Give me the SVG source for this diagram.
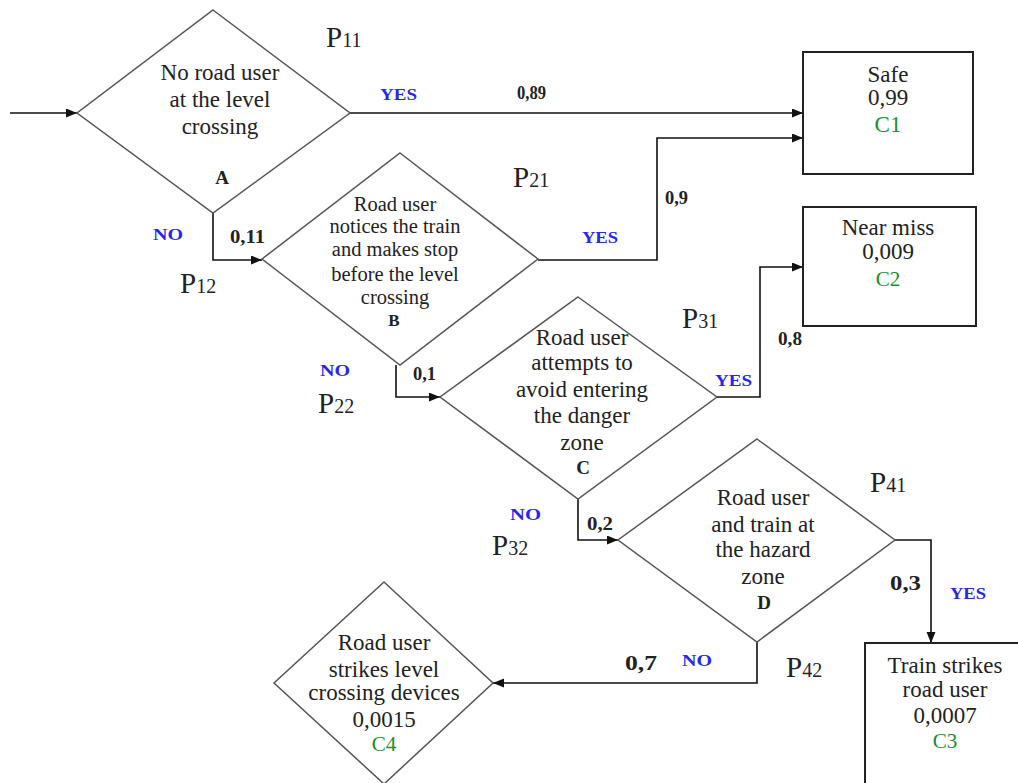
<svg xmlns="http://www.w3.org/2000/svg" width="1018" height="783" viewBox="0 0 1018 783">
<style>
.dia{fill:#fff;stroke:#555;stroke-width:1.5}
.box{fill:#fff;stroke:#222;stroke-width:2}
.con{fill:none;stroke:#111;stroke-width:1.6}
.t{font-family:"Liberation Serif","Times New Roman",serif;font-size:23px;fill:#222;text-anchor:middle}
.tb{font-size:20.5px}
.id{font-family:"Liberation Serif","Times New Roman",serif;font-weight:bold;font-size:19px;fill:#222;text-anchor:middle}
.g{fill:#1a8f2a}
.p{font-family:"Liberation Serif","Times New Roman",serif;font-size:29px;fill:#222}
.p tspan{font-size:20px}
.n{font-family:"Liberation Serif","Times New Roman",serif;font-weight:bold;font-size:19px;fill:#222}
.n2{font-size:22px}
.yn{font-family:"Liberation Serif","Times New Roman",serif;font-weight:bold;font-size:17px;fill:#2626ee}
</style>
<defs>
<marker id="ah" markerUnits="userSpaceOnUse" markerWidth="12" markerHeight="10" refX="11" refY="4.5" orient="auto">
<path d="M0,0 L11,4.5 L0,9 z" fill="#111"/>
</marker>
</defs>
<rect width="1018" height="783" fill="#fff"/>

<g id="connectors">
<path class="con" d="M10,113 H77" marker-end="url(#ah)"/>
<path class="con" d="M350,113 H803" marker-end="url(#ah)"/>
<path class="con" d="M213,213 V260 H262" marker-end="url(#ah)"/>
<path class="con" d="M538,260 H657 V138 H803" marker-end="url(#ah)"/>
<path class="con" d="M396,365 V397 H440" marker-end="url(#ah)"/>
<path class="con" d="M717,397 H760 V267 H803" marker-end="url(#ah)"/>
<path class="con" d="M578,499 V540 H618" marker-end="url(#ah)"/>
<path class="con" d="M895,540 H931 V643" marker-end="url(#ah)"/>
<path class="con" d="M757,642 V683 H493" marker-end="url(#ah)"/>
</g>

<g id="nodeA">
<polygon class="dia" points="213,10 350,113 213,213 77,113"/>
<text class="t" x="220" y="80">No road user</text>
<text class="t" x="220" y="107">at the level</text>
<text class="t" x="220" y="134">crossing</text>
<text class="id" x="222" y="184">A</text>
</g>

<g id="nodeB">
<polygon class="dia" points="400,153 538,259 400,365 262,259"/>
<text class="t tb" x="395" y="211">Road user</text>
<text class="t tb" x="395" y="233">notices the train</text>
<text class="t tb" x="395" y="256">and makes  stop</text>
<text class="t tb" x="395" y="281">before the level</text>
<text class="t tb" x="395" y="304">crossing</text>
<text class="id" x="394" y="326" style="font-size:17px">B</text>
</g>

<g id="nodeC">
<polygon class="dia" points="578,297 717,397 578,499 440,397"/>
<text class="t" x="582" y="345">Road user</text>
<text class="t" x="582" y="370">attempts to</text>
<text class="t" x="582" y="397">avoid entering</text>
<text class="t" x="582" y="423">the danger</text>
<text class="t" x="582" y="450">zone</text>
<text class="id" x="583" y="474">C</text>
</g>

<g id="nodeD">
<polygon class="dia" points="757,439 895,540 757,642 618,540"/>
<text class="t" x="763" y="505">Road user</text>
<text class="t" x="763" y="532">and train at</text>
<text class="t" x="763" y="557">the hazard</text>
<text class="t" x="763" y="584">zone</text>
<text class="id" x="764" y="609">D</text>
</g>

<g id="nodeC1">
<rect class="box" x="803" y="52" width="170" height="122"/>
<text class="t" x="888" y="82">Safe</text>
<text class="t" x="888" y="105">0,99</text>
<text class="t g" x="888" y="132">C1</text>
</g>

<g id="nodeC2">
<rect class="box" x="803" y="207" width="173" height="119"/>
<text class="t" x="888" y="235">Near miss</text>
<text class="t" x="888" y="259">0,009</text>
<text class="t g" x="888" y="286" style="font-size:21px">C2</text>
</g>

<g id="nodeC3">
<rect class="box" x="865" y="643" width="170" height="160"/>
<text class="t" x="945" y="673">Train strikes</text>
<text class="t" x="945" y="697">road user</text>
<text class="t" x="945" y="723">0,0007</text>
<text class="t g" x="945" y="748" style="font-size:21px">C3</text>
</g>

<g id="nodeC4">
<polygon class="dia" points="384,582 493,683 384,784 274,683"/>
<text class="t" x="384" y="650">Road user</text>
<text class="t" x="384" y="677">strikes level</text>
<text class="t" x="384" y="700">crossing devices</text>
<text class="t" x="384" y="727">0,0015</text>
<text class="t g" x="384" y="751" style="font-size:21px">C4</text>
</g>

<g id="labels">
<text class="p" x="326" y="47">P<tspan>11</tspan></text>
<text class="p" x="180" y="293">P<tspan>12</tspan></text>
<text class="p" x="513" y="187">P<tspan>21</tspan></text>
<text class="p" x="318" y="413">P<tspan>22</tspan></text>
<text class="p" x="682" y="328">P<tspan>31</tspan></text>
<text class="p" x="492" y="555">P<tspan>32</tspan></text>
<text class="p" x="870" y="492">P<tspan>41</tspan></text>
<text class="p" x="786" y="677">P<tspan>42</tspan></text>

<text class="n" x="517" y="99" textLength="29" lengthAdjust="spacingAndGlyphs">0,89</text>
<text class="n" x="230" y="243" textLength="35" lengthAdjust="spacingAndGlyphs">0,11</text>
<text class="n" x="665" y="204" textLength="23" lengthAdjust="spacingAndGlyphs">0,9</text>
<text class="n" x="413" y="380" textLength="23" lengthAdjust="spacingAndGlyphs">0,1</text>
<text class="n" x="778" y="345" textLength="24" lengthAdjust="spacingAndGlyphs">0,8</text>
<text class="n" x="587" y="530" textLength="26" lengthAdjust="spacingAndGlyphs">0,2</text>
<text class="n n2" x="890" y="590" textLength="31" lengthAdjust="spacingAndGlyphs">0,3</text>
<text class="n n2" x="625" y="670" textLength="32" lengthAdjust="spacingAndGlyphs">0,7</text>

<text class="yn" x="380" y="100" textLength="37" lengthAdjust="spacingAndGlyphs">YES</text>
<text class="yn" x="153" y="240" textLength="30" lengthAdjust="spacingAndGlyphs">NO</text>
<text class="yn" x="582" y="243" textLength="36" lengthAdjust="spacingAndGlyphs">YES</text>
<text class="yn" x="320" y="376" textLength="30" lengthAdjust="spacingAndGlyphs">NO</text>
<text class="yn" x="715" y="386" textLength="37" lengthAdjust="spacingAndGlyphs">YES</text>
<text class="yn" x="510" y="520" textLength="31" lengthAdjust="spacingAndGlyphs">NO</text>
<text class="yn" x="950" y="599" textLength="36" lengthAdjust="spacingAndGlyphs">YES</text>
<text class="yn" x="682" y="666" textLength="30" lengthAdjust="spacingAndGlyphs">NO</text>
</g>
</svg>
